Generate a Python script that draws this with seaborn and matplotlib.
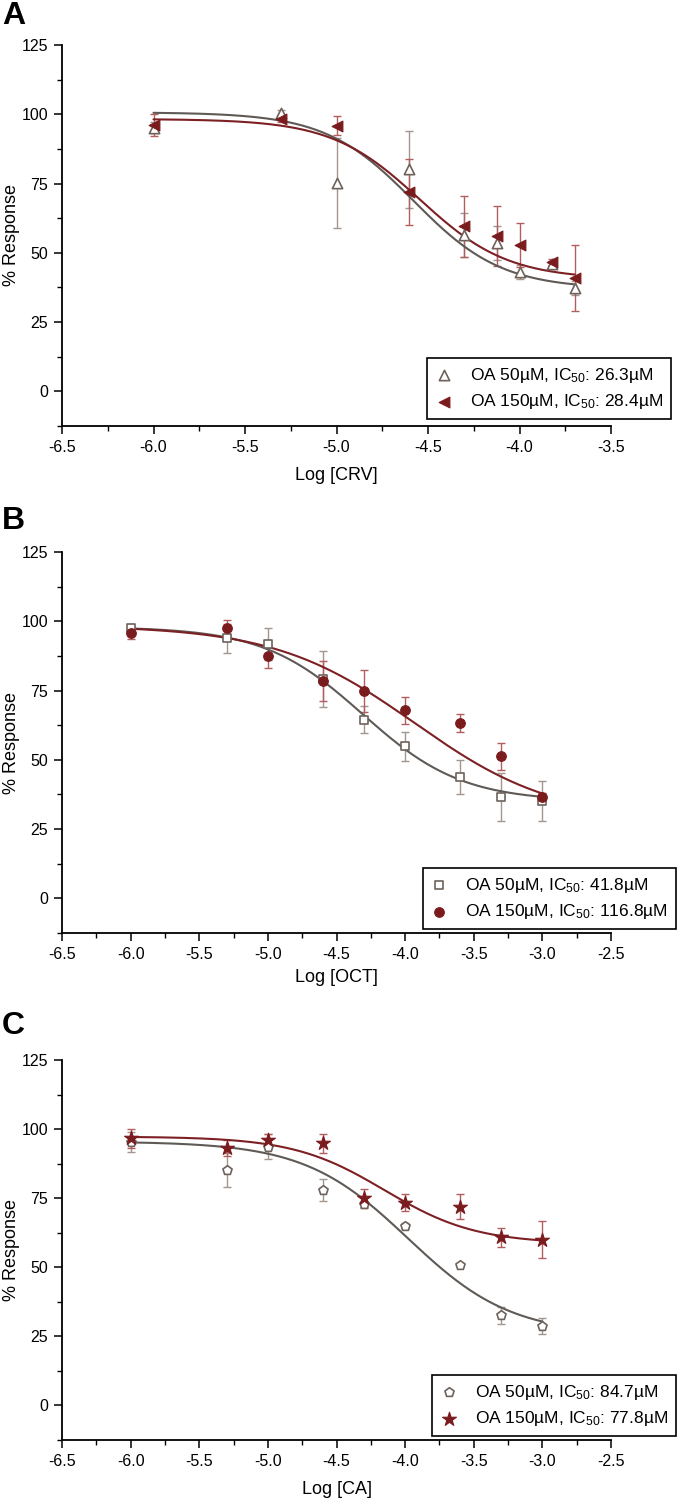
import numpy as np
import pandas as pd
import matplotlib
matplotlib.use("Agg")
import matplotlib.pyplot as plt
from matplotlib.ticker import MultipleLocator
import seaborn as sns

# ---------------- data ----------------
# Panel A : CRV (log molar)
A_x = [-6.0, -5.301, -5.0, -4.602, -4.301, -4.125, -4.0, -3.824, -3.699]
A_oa50 = [95.2, 100.6, 75.2, 80.1, 56.5, 53.5, 43.2, 46.0, 37.2]
A_oa50_err = [2.0, 1.0, 16.2, 14.0, 8.0, 6.2, 2.5, 1.0, 2.5]
A_oa150 = [96.2, 98.4, 95.8, 71.9, 59.5, 56.2, 52.8, 46.6, 40.9]
A_oa150_err = [4.0, 1.2, 3.4, 12.0, 11.0, 10.8, 8.0, 1.0, 11.8]

# Panel B : OCT
B_x = [-6.0, -5.301, -5.0, -4.602, -4.301, -4.0, -3.602, -3.301, -3.0]
B_oa50 = [97.7, 93.9, 91.7, 79.1, 64.5, 54.9, 43.8, 36.6, 35.1]
B_oa50_err = [1.0, 5.2, 5.8, 10.0, 5.0, 5.2, 6.2, 8.6, 7.3]
B_oa150 = [95.7, 97.7, 87.3, 78.3, 74.7, 67.8, 63.3, 51.3, 36.5]
B_oa150_err = [2.0, 2.6, 4.0, 7.2, 7.6, 4.8, 3.4, 4.8, 1.5]

# Panel C : CA
C_x = [-6.0, -5.301, -5.0, -4.602, -4.301, -4.0, -3.602, -3.301, -3.0]
C_oa50 = [95.4, 85.1, 93.6, 77.9, 72.8, 64.9, 51.0, 32.6, 28.8]
C_oa50_err = [3.6, 6.2, 4.6, 4.0, 1.0, 1.0, 0.6, 3.0, 3.0]
C_oa150 = [96.6, 93.2, 96.0, 94.8, 74.9, 73.4, 71.9, 60.8, 60.0]
C_oa150_err = [3.6, 3.0, 2.2, 3.3, 3.3, 3.2, 4.5, 3.5, 6.7]

# fitted dose-response parameters: top, bottom, log x0, hill
A_fit50 = [100.7, 37.0, -4.58, 1.8]
A_fit150 = [98.3, 40.5, -4.547, 1.8]
B_fit50 = [98.0, 35.0, -4.31, 1.2]
B_fit150 = [98.5, 28.0, -3.93, 0.85]
C_fit50 = [95.5, 25.5, -3.98, 1.15]
C_fit150 = [97.3, 58.5, -4.15, 1.3]

A_labels = ["OA 50µM, IC$_{50}$: 26.3µM", "OA 150µM, IC$_{50}$: 28.4µM"]
B_labels = ["OA 50µM, IC$_{50}$: 41.8µM", "OA 150µM, IC$_{50}$: 116.8µM"]
C_labels = ["OA 50µM, IC$_{50}$: 84.7µM", "OA 150µM, IC$_{50}$: 77.8µM"]

x_titles = ["Log [CRV]", "Log [OCT]", "Log [CA]"]
panel_letters = ["A", "B", "C"]
x_max = [-3.5, -2.5, -2.5]
y_ticks = [0, 25, 50, 75, 100, 125]

# ---------------- style ----------------
sns.set_theme(style="ticks")
plt.rcParams["font.family"] = ["Liberation Sans", "DejaVu Sans"]
plt.rcParams["mathtext.default"] = "regular"
for k in ["text.color", "axes.labelcolor", "xtick.color", "ytick.color"]:
    plt.rcParams[k] = "black"

GRAY_M = "#6e625b"
GRAY_L = "#5f5a56"
GRAY_E = "#a2968f"
RED_M = "#7a1b1e"
RED_L = "#7d2024"
RED_E = "#b35e5e"

W, H = 680, 1502
fig = plt.figure(figsize=(W / 100, H / 100), dpi=100)


def dose_resp(x, p):
    top, bottom, x0, h = p
    return bottom + (top - bottom) / (1 + 10 ** ((x - x0) * h))


# pixel layout: (top, bottom) of each axes
ax_rows = [(45, 426), (552, 933), (1060, 1440)]
ax_left, ax_right = 62, 611
letter_top = [1, 506, 1011]
xlabel_y = [475, 977, 1490]
legend_anchor = [(1.109, 0.018), (1.118, 0.010), (1.118, 0.010)]

panels = [
    (A_x, A_oa50, A_oa50_err, A_oa150, A_oa150_err, A_fit50, A_fit150, A_labels, "^", "<", 55, 60),
    (B_x, B_oa50, B_oa50_err, B_oa150, B_oa150_err, B_fit50, B_fit150, B_labels, "s", "o", 32, 48),
    (C_x, C_oa50, C_oa50_err, C_oa150, C_oa150_err, C_fit50, C_fit150, C_labels, "p", "*", 48, 110),
]

for i, (x, y50, e50, y150, e150, f50, f150, labels, m50, m150, s50, s150) in enumerate(panels):
    top_px, bot_px = ax_rows[i]
    ax = fig.add_axes([ax_left / W, 1 - bot_px / H, (ax_right - ax_left) / W, (bot_px - top_px) / H])

    # error bars
    ax.errorbar(x, y50, yerr=e50, fmt="none", ecolor=GRAY_E, elinewidth=1.0,
                capsize=3.2, capthick=1.0, zorder=2)
    ax.errorbar(x, y150, yerr=e150, fmt="none", ecolor=RED_E, elinewidth=1.0,
                capsize=3.2, capthick=1.0, zorder=2)

    # fitted curves
    xs = np.linspace(x[0], x[-1], 300)
    sns.lineplot(x=xs, y=dose_resp(xs, f50), color=GRAY_L, lw=1.5, ax=ax, zorder=3)
    sns.lineplot(x=xs, y=dose_resp(xs, f150), color=RED_L, lw=1.5, ax=ax, zorder=3)

    # markers
    sns.scatterplot(x=x, y=y50, marker=m50, s=s50, color="white", edgecolor=GRAY_M,
                    linewidth=1.2, ax=ax, zorder=4, label=labels[0])
    sns.scatterplot(x=x, y=y150, marker=m150, s=s150, color=RED_M, edgecolor=RED_M,
                    linewidth=0.8, ax=ax, zorder=5, label=labels[1])

    ax.set_xlim(-6.5, x_max[i])
    ax.set_ylim(-12.5, 125)
    ax.set_yticks(y_ticks)
    ax.xaxis.set_major_locator(MultipleLocator(0.5))
    ax.xaxis.set_minor_locator(MultipleLocator(0.25))
    ax.yaxis.set_minor_locator(MultipleLocator(12.5))
    ax.xaxis.set_major_formatter(matplotlib.ticker.FormatStrFormatter("%.1f"))
    ax.tick_params(which="major", length=6, width=1.1, labelsize=11.5, pad=4, color="black")
    ax.tick_params(which="minor", length=3.5, width=1.0, color="black")
    for sp in ["left", "bottom"]:
        ax.spines[sp].set_linewidth(1.3)
        ax.spines[sp].set_color("black")
    sns.despine(ax=ax)
    ax.set_xlabel("")
    ax.set_ylabel("")

    leg = ax.legend(loc="lower right", bbox_to_anchor=legend_anchor[i], frameon=True,
                    fancybox=False, framealpha=1, edgecolor="black", fontsize=12.5,
                    handlelength=1.0, handletextpad=1.0, borderpad=0.45,
                    labelspacing=0.45, borderaxespad=0)
    leg.get_frame().set_linewidth(1.2)

    # labels
    fig.text(2 / W, 1 - letter_top[i] / H, panel_letters[i], fontsize=23,
             fontweight="bold", ha="left", va="top")
    fig.text(12 / W, 1 - ((top_px + bot_px) / 2) / H, "% Response", rotation=90,
             fontsize=13, ha="center", va="center")
    fig.text(((ax_left + ax_right) / 2) / W, 1 - xlabel_y[i] / H, x_titles[i],
             fontsize=13, ha="center", va="center")

fig.savefig("out.png", dpi=100)
